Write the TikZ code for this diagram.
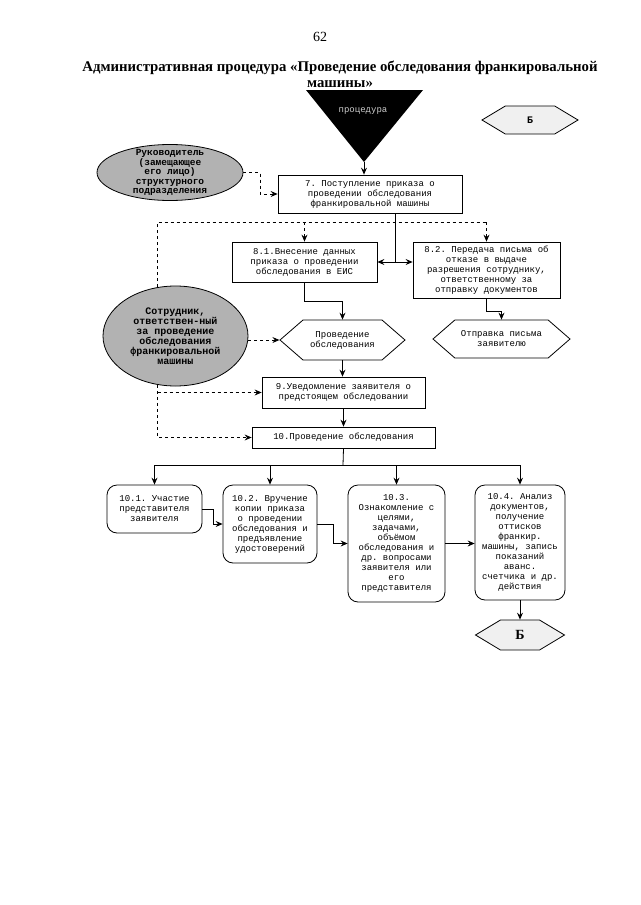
\documentclass[tikz,border=0pt]{standalone}
\usepackage{fontspec}
\setmainfont{Liberation Serif}
\setmonofont{Liberation Mono}
\usepackage{tikz}
\usetikzlibrary{shapes,arrows,arrows.meta,calc,positioning}
\tikzstyle{arrow} = [draw, -{Stealth[length=7pt, width=6pt, inset=2.5pt]}]
\tikzstyle{dasharrow} = [arrow, dashed]
\tikzstyle{box} = [draw, align=center, inner sep=2pt, font={\ttfamily\fontsize{9}{10}\selectfont}]
\tikzstyle{rbox} = [box, rounded corners=10pt]
\tikzstyle{hexa} = [box, signal, signal to=west and east, signal pointer angle=82]
\tikzstyle{actor} = [draw, ellipse, fill=gray!60, align=center, inner sep=-4pt, font={\ttfamily\bfseries\fontsize{10}{10}\selectfont}]
\begin{document}
\begin{tikzpicture}[x=1pt, y=-1pt, line width=0.8pt]
  \useasboundingbox (0,0) rectangle (640,905);

  \node (page)  at (320,37) {\fontsize{14}{16}\selectfont 62};
  \node[align=center, font=\bfseries\fontsize{14.8}{16}\selectfont] (title) at (340,74)
    {Административная процедура «Проведение обследования франкировальной\\машины»};

  \fill (306,90) -- (423,90) -- (364,162) -- cycle;
  \coordinate (tip) at (364,162);
  \node[text=gray!40, font={\ttfamily\fontsize{9}{10}\selectfont}] (start) at (363,111) {процедура};
  \node[hexa, fill=gray!12, minimum width=96pt, minimum height=28pt, signal pointer angle=62,
        font={\ttfamily\bfseries\fontsize{10}{10}\selectfont}] (bB1) at (530,120) {Б};

  \node[actor, minimum width=146pt, minimum height=56pt,
        font={\ttfamily\bfseries\fontsize{9.5}{9.5}\selectfont}] (ell1) at (170,172.5)
    {Руководитель\\(замещающее\\его лицо)\\структурного\\подразделения};
  \node[box, minimum width=184pt, minimum height=38pt] (b7) at (370,194)
    {7. Поступление приказа о\\проведении обследования\\франкировальной машины};
  \node[box, minimum width=145pt, minimum height=40pt] (b81) at (304.5,262)
    {8.1.Внесение данных\\приказа о проведении\\обследования в ЕИС};
  \node[box, minimum width=147pt, minimum height=56pt] (b82) at (486.5,270)
    {8.2. Передача письма об\\отказе в выдаче\\разрешения сотруднику,\\ответственному за\\отправку документов};
  \node[actor, minimum width=145pt, minimum height=100pt] (ell2) at (175.5,336)
    {Сотрудник,\\ответствен-ный\\за проведение\\обследования\\франкировальной\\машины};
  \node[hexa, minimum width=125pt, minimum height=40pt] (hex1) at (342.5,340) {Проведение\\обследования};
  \node[hexa, minimum width=137pt, minimum height=38pt] (hex2) at (501.5,339) {Отправка письма\\заявителю};
  \node[box, minimum width=163pt, minimum height=31pt] (b9) at (343.5,392.5)
    {9.Уведомление заявителя о\\предстоящем обследовании};
  \node[box, minimum width=183pt, minimum height=21pt] (b10) at (343.5,437.5) {10.Проведение обследования};

  \node[rbox, minimum width=95pt, minimum height=48pt] (b101) at (154.5,509)
    {10.1. Участие\\представителя\\заявителя};
  \node[rbox, minimum width=94pt, minimum height=78pt] (b102) at (270,524)
    {10.2. Вручение\\копии приказа\\о проведении\\обследования и\\предъявление\\удостоверений};
  \node[rbox, minimum width=97pt, minimum height=117pt] (b103) at (396.5,543.5)
    {10.3.\\Ознакомление с\\целями,\\задачами,\\объёмом\\обследования и\\др. вопросами\\заявителя или\\его\\представителя};
  \node[rbox, minimum width=90pt, minimum height=115pt] (b104) at (520,542.5)
    {10.4. Анализ\\документов,\\получение\\оттисков\\франкир.\\машины, запись\\показаний\\аванс.\\счетчика и др.\\действия};
  \node[hexa, fill=gray!12, minimum width=89pt, minimum height=30pt, signal pointer angle=62,
        font={\bfseries\fontsize{14}{14}\selectfont}] (bB2) at (520,635) {Б};

  \coordinate (split) at (395,262);
  \coordinate (dtop)  at (158,222);
  \coordinate (bus)   at (343,465);

  \draw[arrow] (tip) -- (tip |- b7.north);
  \draw[dasharrow] (ell1.east) -- ++(17,0) |- (b7.west);
  \draw (b7.south -| split) -- (split);
  \draw[arrow] (split) -- (split -| b81.east);
  \draw[arrow] (split) -- (split -| b82.west);
  \draw[dashed] (ell2.110) -- (ell2.110 |- dtop) -- (dtop -| b82.north);
  \draw[dasharrow] (dtop -| b81.north) -- (b81.north);
  \draw[dasharrow] (dtop -| b82.north) -- (b82.north);
  \draw[arrow] (b81.south) -- ++(0,19) -| (hex1.north);
  \draw[arrow] (b82.south) -- ++(0,13) -| (hex2.north);
  \draw[dasharrow] (ell2.east |- hex1) -- (hex1.west);
  \draw[arrow] (hex1.south) -- (hex1.south |- b9.north);
  \draw[arrow] (b9.south) -- (b10.north);
  \draw[dasharrow] (ell2.250) |- (b10.west);
  \draw[dasharrow] (ell2.250 |- b9.west) -- (b9.west);
  \draw (b10.south) -- (bus);
  \draw (bus -| b101.north) -- (bus -| b104.north);
  \foreach \n in {b101,b102,b103,b104}
    \draw[arrow] (bus -| \n.north) -- (\n.north);
  \draw[arrow] (b101.east) -- ++(11,0) |- (b102.west);
  \draw[arrow] (b102.east) -- ++(16,0) |- (b103.west);
  \draw[arrow] (b103.east) -- (b103.east -| b104.west);
  \draw[arrow] (b104.south) -- (bB2.north);
\end{tikzpicture}
\end{document}
